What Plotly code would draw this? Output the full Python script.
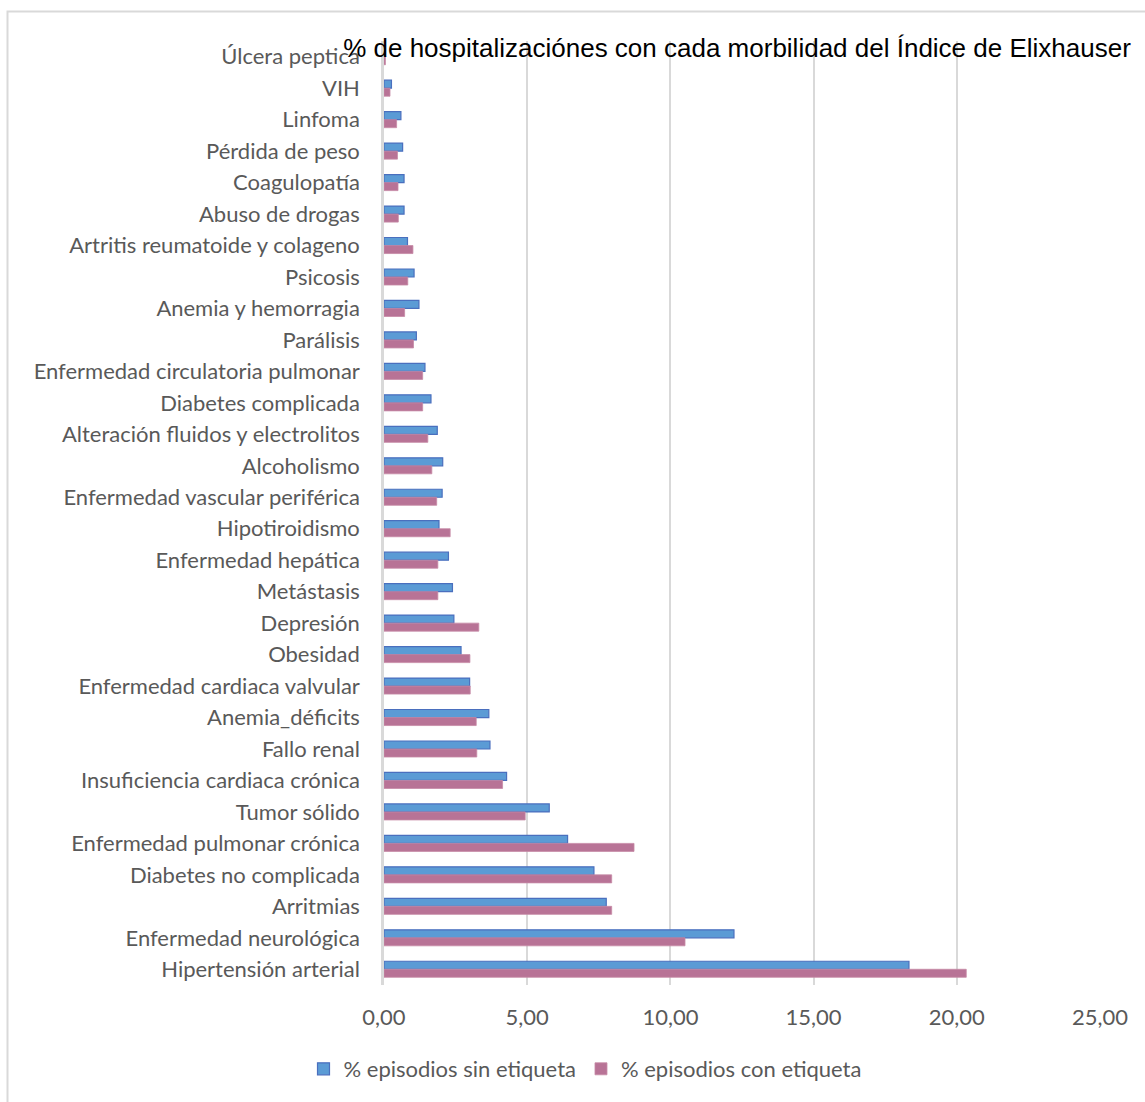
import plotly.graph_objects as go

categories = [
    "Úlcera peptica", "VIH", "Linfoma", "Pérdida de peso", "Coagulopatía",
    "Abuso de drogas", "Artritis reumatoide y colageno", "Psicosis",
    "Anemia y hemorragia", "Parálisis", "Enfermedad circulatoria pulmonar",
    "Diabetes complicada", "Alteración fluidos y electrolitos", "Alcoholismo",
    "Enfermedad vascular periférica", "Hipotiroidismo", "Enfermedad hepática",
    "Metástasis", "Depresión", "Obesidad", "Enfermedad cardiaca valvular",
    "Anemia_déficits", "Fallo renal", "Insuficiencia cardiaca crónica",
    "Tumor sólido", "Enfermedad pulmonar crónica", "Diabetes no complicada",
    "Arritmias", "Enfermedad neurológica", "Hipertensión arterial",
]

sin_etiqueta = [
    0.03, 0.26, 0.59, 0.65, 0.70, 0.70, 0.82, 1.05, 1.22, 1.13,
    1.43, 1.64, 1.86, 2.05, 2.03, 1.92, 2.25, 2.39, 2.44, 2.69,
    2.99, 3.66, 3.70, 4.28, 5.77, 6.41, 7.33, 7.76, 12.22, 18.33,
]

con_etiqueta = [
    0.05, 0.21, 0.44, 0.47, 0.49, 0.50, 1.01, 0.83, 0.72, 1.03,
    1.35, 1.35, 1.53, 1.67, 1.84, 2.31, 1.88, 1.88, 3.31, 3.00,
    3.01, 3.22, 3.24, 4.14, 4.93, 8.73, 7.95, 7.95, 10.51, 20.33,
]

series_names = ["% episodios sin etiqueta", "% episodios con etiqueta"]
x_ticks = [0, 5, 10, 15, 20, 25]

W, H = 1145, 1102
L, R, T, B = 384, 45, 41, 117
pw, ph = W - L - R, H - T - B

label_font = dict(family="Lato, Calibri, Carlito, sans-serif", size=22, color="#595959")

fig = go.Figure()
fig.add_trace(go.Bar(
    y=categories, x=sin_etiqueta, orientation="h", name=series_names[0],
    marker=dict(color="#5B9BD5", line=dict(color="#4A6FBE", width=1.2)),
))
fig.add_trace(go.Bar(
    y=categories, x=con_etiqueta, orientation="h", name=series_names[1],
    marker=dict(color="#B87396", line=dict(color="#C68AA6", width=0.8)),
))

def px_to_paper_x(px):
    return (px - L) / pw

def px_to_paper_y(py):
    return (H - B - py) / ph

fig.update_layout(
    width=W, height=H,
    margin=dict(l=L, r=R, t=T, b=B),
    paper_bgcolor="white", plot_bgcolor="white",
    barmode="group", bargap=0.49, bargroupgap=0.0,
    title=dict(
        text="% de hospitalizaciónes con cada morbilidad del Índice de Elixhauser",
        x=737 / W, xanchor="center", xref="container",
        y=1 - 48 / H, yanchor="middle", yref="container",
        font=dict(family="Liberation Sans, Arial, sans-serif", size=26, color="black"),
    ),
    xaxis=dict(
        range=[0, 25], tickvals=x_ticks, tickformat=".2f",
        showgrid=True, gridcolor="#D9D9D9", gridwidth=1.5,
        zeroline=False, showline=False, ticks="",
        tickfont=label_font, ticklabelstandoff=17,
        fixedrange=True,
    ),
    yaxis=dict(
        categoryorder="array", categoryarray=categories, autorange="reversed",
        showgrid=False, zeroline=False, showline=True, linecolor="#D9D9D9", linewidth=2.5,
        ticks="", tickfont=label_font, ticklabelstandoff=17,
    ),
    separators=",.",
    legend=dict(
        orientation="h", x=px_to_paper_x(585), xanchor="center",
        y=px_to_paper_y(1069), yanchor="middle",
        font=label_font, itemwidth=30, traceorder="normal",
        bgcolor="rgba(0,0,0,0)",
    ),
    showlegend=True,
    shapes=[dict(
        type="rect", xref="paper", yref="paper",
        x0=px_to_paper_x(7.5), x1=px_to_paper_x(1160),
        y0=px_to_paper_y(1120), y1=px_to_paper_y(11.5),
        line=dict(color="#D9D9D9", width=2), fillcolor="rgba(0,0,0,0)", layer="below",
    )],
)

fig.write_html("out.html")
